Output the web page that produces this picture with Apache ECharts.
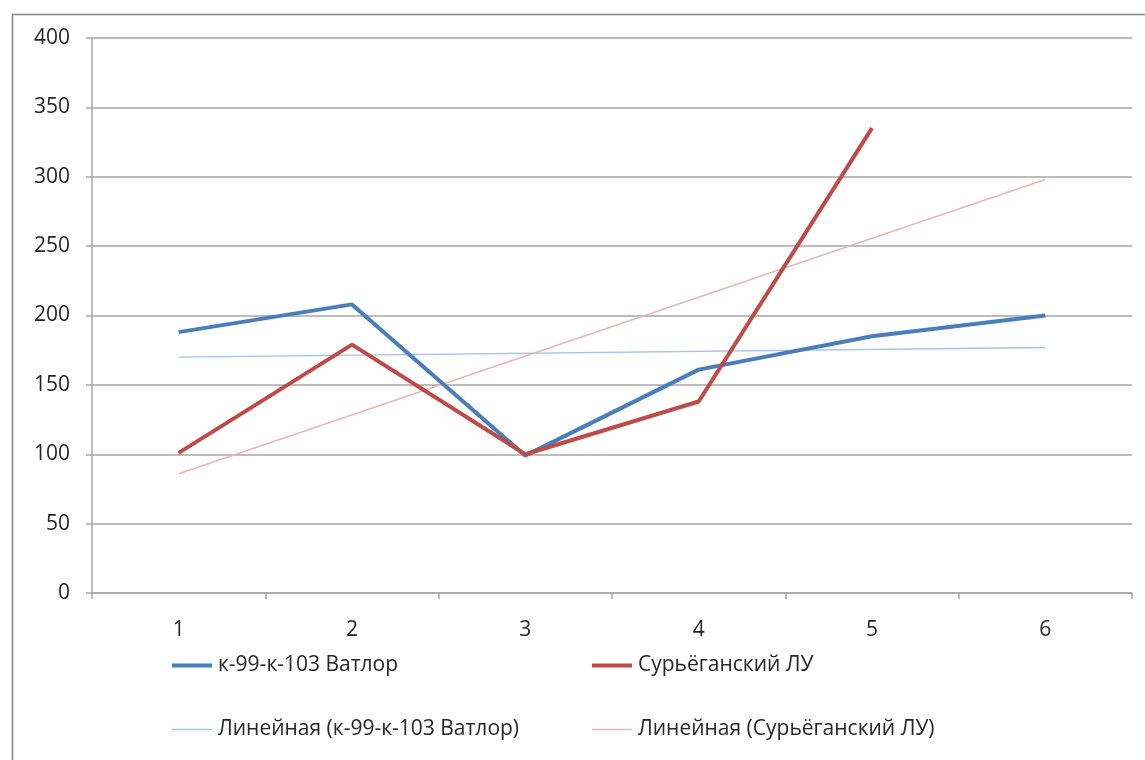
<!DOCTYPE html>
<html>
<head>
<meta charset="utf-8">
<script src="https://cdn.jsdelivr.net/npm/echarts@6/dist/echarts.min.js"></script>
<style>
  html, body { margin: 0; padding: 0; background: #fff; }
  #chart { width: 1145px; height: 760px; }
</style>
</head>
<body>
<div id="chart"></div>
<script>
// Categories along the x axis
const categories = ['1', '2', '3', '4', '5', '6'];

// Measured series
const vatlorName = 'к-99-к-103 Ватлор';
const vatlorValues = [188, 208, 99, 161, 185, 200];
const suryoganName = 'Сурьёганский ЛУ';
const suryoganValues = [101, 179, 100, 138, 335, null];

// Linear trend lines: values at the first and last category
const vatlorTrendName = 'Линейная (к-99-к-103 Ватлор)';
const vatlorTrendEnds = [170, 177];
const suryoganTrendName = 'Линейная (Сурьёганский ЛУ)';
const suryoganTrendEnds = [86, 298];

// Y axis range
const yMin = 0, yMax = 400, yStep = 50;

const FONT = '"Open Sans", Lato, sans-serif';
const FONT_SIZE = 21;
const TEXT_COLOR = '#262626';
const colors = {
  vatlor: '#4a7ebb',
  suryogan: '#be4b48',
  vatlorTrend: '#a7c3e8',
  suryoganTrend: '#e8b6b5'
};

const lastIdx = categories.length - 1;
const trendData = ends => [[0, ends[0]], [lastIdx, ends[1]]];

// One legend block per entry so the two-by-two layout is placed exactly
function legendItem(name, color, h, left, top) {
  return {
    data: [{ name: name, icon: 'rect', itemStyle: { color: color } }],
    left: left, top: top, padding: 0,
    itemWidth: 40, itemHeight: h, itemGap: 0,
    selectedMode: false,
    textStyle: { fontFamily: FONT, fontSize: FONT_SIZE, color: TEXT_COLOR, padding: [0, 0, 0, 1] }
  };
}

const chart = echarts.init(document.getElementById('chart'));
chart.setOption({
  animation: false,
  backgroundColor: '#fff',
  graphic: [{
    type: 'rect', left: 10, top: 12,
    shape: { width: 1200, height: 800 },
    style: { fill: 'none', stroke: '#868686', lineWidth: 1.5 },
    silent: true
  }],
  grid: { left: 92, right: 13, top: 38, bottom: 167 },
  legend: [
    legendItem(vatlorName, colors.vatlor, 4, 172, 655),
    legendItem(suryoganName, colors.suryogan, 4, 592, 655),
    legendItem(vatlorTrendName, colors.vatlorTrend, 1.5, 172, 719),
    legendItem(suryoganTrendName, colors.suryoganTrend, 1.5, 592, 719)
  ],
  xAxis: {
    type: 'category',
    data: categories,
    boundaryGap: true,
    axisLine: { lineStyle: { color: '#a6a6a6', width: 1.5 } },
    axisTick: { show: true, length: 6, lineStyle: { color: '#a6a6a6', width: 1.5 }, alignWithLabel: false },
    axisLabel: { fontFamily: FONT, fontSize: FONT_SIZE, color: TEXT_COLOR, margin: 27 }
  },
  yAxis: {
    type: 'value',
    min: yMin, max: yMax, interval: yStep,
    axisLine: { show: true, lineStyle: { color: '#a6a6a6', width: 1.5 } },
    axisTick: { show: true, length: 6, lineStyle: { color: '#a6a6a6', width: 1.5 } },
    axisLabel: { fontFamily: FONT, fontSize: FONT_SIZE, color: TEXT_COLOR, margin: 22 },
    splitLine: { lineStyle: { color: '#a6a6a6', width: 1.5 } }
  },
  series: [
    {
      name: vatlorTrendName, type: 'line', data: trendData(vatlorTrendEnds),
      showSymbol: false, symbol: 'none',
      lineStyle: { color: colors.vatlorTrend, width: 1.5 },
      itemStyle: { color: colors.vatlorTrend }, z: 2
    },
    {
      name: suryoganTrendName, type: 'line', data: trendData(suryoganTrendEnds),
      showSymbol: false, symbol: 'none',
      lineStyle: { color: colors.suryoganTrend, width: 1.5 },
      itemStyle: { color: colors.suryoganTrend }, z: 2
    },
    {
      name: vatlorName, type: 'line', data: vatlorValues,
      showSymbol: false, symbol: 'none',
      lineStyle: { color: colors.vatlor, width: 4 },
      itemStyle: { color: colors.vatlor }, z: 3
    },
    {
      name: suryoganName, type: 'line', data: suryoganValues,
      showSymbol: false, symbol: 'none',
      lineStyle: { color: colors.suryogan, width: 4 },
      itemStyle: { color: colors.suryogan }, z: 4
    }
  ]
});
</script>
</body>
</html>
